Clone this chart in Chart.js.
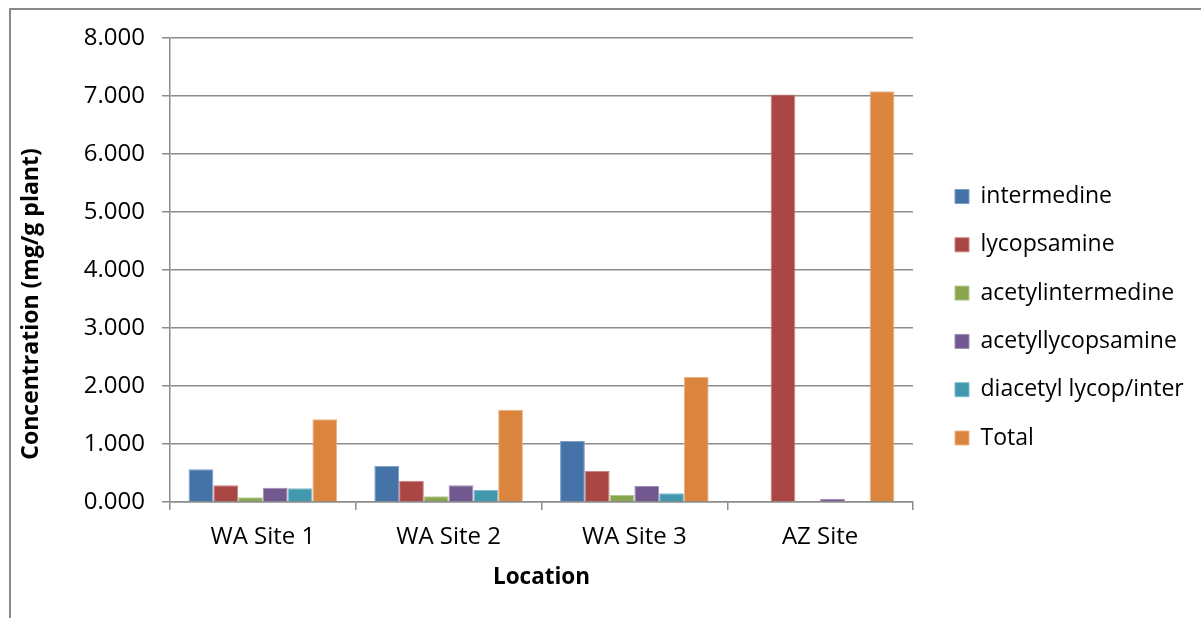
<!DOCTYPE html>
<html>
<head>
<meta charset="utf-8">
<title>Pyrrolizidine alkaloid concentration by location</title>
<script src="https://cdn.jsdelivr.net/npm/chart.js@4.4.1/dist/chart.umd.min.js"></script>
<style>
  html, body { margin: 0; padding: 0; background: #ffffff; }
  #wrap { width: 1201px; height: 618px; position: relative; }
  canvas { display: block; }
</style>
</head>
<body>
<div id="wrap"><canvas id="chart" width="1201" height="618"></canvas></div>
<script>
// Sampling locations (x categories)
const locations = ['WA Site 1', 'WA Site 2', 'WA Site 3', 'AZ Site'];

// Alkaloid concentrations, mg/g plant
const intermedine        = [0.563, 0.621, 1.052, 0.000];
const lycopsamine        = [0.287, 0.367, 0.534, 7.024];
const acetylintermedine  = [0.080, 0.098, 0.121, 0.000];
const acetyllycopsamine  = [0.247, 0.287, 0.276, 0.057];
const diacetylLycopInter = [0.236, 0.207, 0.150, 0.000];
const total              = [1.426, 1.590, 2.155, 7.081];

// Value axis ticks
const yTicks = [0, 1, 2, 3, 4, 5, 6, 7, 8];

const seriesNames = ['intermedine', 'lycopsamine', 'acetylintermedine',
                     'acetyllycopsamine', 'diacetyl lycop/inter', 'Total'];
const seriesValues = [intermedine, lycopsamine, acetylintermedine,
                      acetyllycopsamine, diacetylLycopInter, total];
const fills  = ['#4572A7', '#AA4643', '#89A54E', '#71588F', '#4198AF', '#DB843D'];
const edges  = ['#7d9cc6', '#c98482', '#b2c891', '#a08db6', '#80bccc', '#ebb384'];

const yTitle = 'Concentration (mg/g plant)';

const AXIS_GREY = '#8c8c8c';
const FONT = "'Open Sans', 'Liberation Sans', sans-serif";

Chart.defaults.font.family = FONT;
Chart.defaults.color = '#000000';

// Legend column sits in a fixed slot to the right of the plot
const LEGEND_SLOT = 288;
const legendSlot = {
  id: 'legendSlot',
  beforeLayout(chart) {
    const lg = chart.legend;
    if (lg && !lg._slotWrapped) {
      const fit = lg.fit;
      lg.fit = function () { fit.call(this); this.width = LEGEND_SLOT; };
      lg._slotWrapped = true;
    }
  },
  afterLayout(chart) {
    const lg = chart.legend;
    if (!lg) return;
    const lab = lg.options.labels;
    const pad = lab.padding;
    const itemH = Math.max(lab.font.size, lab.boxHeight);
    const h = lg.height;
    lg.left = 955 - pad;
    lg.right = lg.left + LEGEND_SLOT;
    lg.top = 196.5 - pad - itemH / 2;
    lg.bottom = lg.top + h;
  }
};

// White page with the outer frame (left and top edges)
const frame = {
  id: 'frame',
  beforeDraw(chart) {
    const ctx = chart.ctx;
    ctx.save();
    ctx.fillStyle = '#ffffff';
    ctx.fillRect(0, 0, chart.width, chart.height);
    ctx.fillStyle = '#898989';
    ctx.fillRect(9, 8, chart.width - 9, 2);
    ctx.fillRect(9, 8, 2, chart.height - 8);
    ctx.restore();
  }
};

// Rotated value-axis title, placed beside the lower part of the axis
const valueTitle = {
  id: 'valueTitle',
  afterDraw(chart) {
    const ctx = chart.ctx;
    ctx.save();
    ctx.translate(31, 304);
    ctx.rotate(-Math.PI / 2);
    ctx.font = "bold 23px " + FONT;
    ctx.fillStyle = '#000000';
    ctx.textAlign = 'center';
    ctx.textBaseline = 'middle';
    ctx.fillText(yTitle, 0, 0);
    ctx.restore();
  }
};

new Chart(document.getElementById('chart'), {
  type: 'bar',
  data: {
    labels: locations,
    datasets: seriesNames.map((name, i) => ({
      label: name,
      data: seriesValues[i],
      backgroundColor: fills[i],
      borderColor: edges[i],
      borderWidth: 1,
      categoryPercentage: 0.8,
      barPercentage: 1.0
    }))
  },
  options: {
    responsive: false,
    animation: false,
    devicePixelRatio: 1,
    layout: { padding: { top: 38, left: 12, right: 0, bottom: 16 } },
    plugins: {
      tooltip: { enabled: false },
      legend: {
        position: 'right',
        align: 'start',
        labels: {
          boxWidth: 14,
          boxHeight: 14,
          padding: 25.3,
          color: '#000000',
          font: { family: FONT, size: 23 }
        }
      }
    },
    scales: {
      x: {
        offset: true,
        grid: {
          display: true,
          offset: true,
          drawOnChartArea: false,
          drawTicks: true,
          tickLength: 8,
          color: AXIS_GREY,
          lineWidth: 1.5
        },
        border: { display: true, color: AXIS_GREY, width: 1.5 },
        ticks: {
          padding: 13,
          maxRotation: 0,
          autoSkip: false,
          color: '#000000',
          font: { family: FONT, size: 24 }
        },
        title: {
          display: true,
          text: 'Location',
          color: '#000000',
          font: { family: FONT, size: 22.5, weight: 'bold' },
          padding: { top: 0, bottom: 10.5 }
        },
        afterFit(scale) { scale.height = 100; }
      },
      y: {
        min: 0,
        max: 8,
        afterBuildTicks(scale) { scale.ticks = yTicks.map(v => ({ value: v })); },
        grid: {
          display: true,
          drawTicks: true,
          tickLength: 8,
          color: AXIS_GREY,
          lineWidth: 1.5
        },
        border: { display: true, color: AXIS_GREY, width: 1.5 },
        ticks: {
          padding: 17,
          color: '#000000',
          font: { family: FONT, size: 24 },
          callback: v => Number(v).toFixed(3)
        },
        title: { display: false },
        afterFit(scale) { scale.width = 158; }
      }
    }
  },
  plugins: [frame, legendSlot, valueTitle]
});
</script>
</body>
</html>
